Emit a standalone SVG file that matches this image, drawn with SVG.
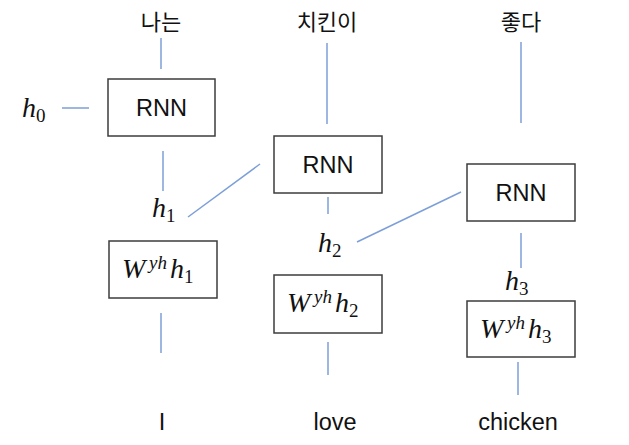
<svg xmlns="http://www.w3.org/2000/svg" width="629" height="445" viewBox="0 0 629 445">
<style>
.box{fill:#fff;stroke:#3c3c3c;stroke-width:1.5}
.ln{stroke:#7d9fd8;stroke-width:1.5;fill:none}
.kr{font-family:"Noto Sans CJK KR","Noto Sans",sans-serif;font-size:22px;fill:#111;text-anchor:middle}
.en{font-family:"Liberation Sans",Arial,sans-serif;font-size:23.5px;fill:#111;text-anchor:middle}
.m{font-family:"Liberation Serif","Times New Roman",serif;font-style:italic;font-size:28px;fill:#111}
.s{font-size:19px}
.d{font-style:normal;font-size:19px}
</style>
<rect width="629" height="445" fill="#fff"/>
<g id="connectors">
<line class="ln" x1="161" y1="38" x2="161" y2="69"/>
<line class="ln" x1="62" y1="108" x2="89" y2="108"/>
<line class="ln" x1="163" y1="151" x2="163" y2="191"/>
<line class="ln" x1="188" y1="217" x2="260" y2="164"/>
<line class="ln" x1="327" y1="43" x2="327" y2="124"/>
<line class="ln" x1="328" y1="197" x2="328" y2="214"/>
<line class="ln" x1="357" y1="242" x2="461" y2="192"/>
<line class="ln" x1="521" y1="42" x2="521" y2="123"/>
<line class="ln" x1="521" y1="233" x2="521" y2="268"/>
<line class="ln" x1="161" y1="313" x2="161" y2="353"/>
<line class="ln" x1="328" y1="342" x2="328" y2="375"/>
<line class="ln" x1="518" y1="362" x2="518" y2="395"/>
</g>
<g id="word-in-1"><text class="kr" x="161" y="30">나는</text></g>
<g id="word-in-2"><text class="kr" x="327" y="30">치킨이</text></g>
<g id="word-in-3"><text class="kr" x="521" y="30">좋다</text></g>
<g id="h0"><text class="m" x="22" y="117">h<tspan class="d" dy="5">0</tspan></text></g>
<g id="rnn1"><rect class="box" x="108" y="79" width="107" height="57"/><text class="en" x="161.5" y="116">RNN</text></g>
<g id="rnn2"><rect class="box" x="274" y="136" width="108" height="57"/><text class="en" x="328" y="173">RNN</text></g>
<g id="rnn3"><rect class="box" x="467" y="164" width="108" height="57"/><text class="en" x="521" y="201">RNN</text></g>
<g id="h1"><text class="m" x="152" y="217">h<tspan class="d" dy="5">1</tspan></text></g>
<g id="h2"><text class="m" x="318" y="252">h<tspan class="d" dy="5">2</tspan></text></g>
<g id="h3"><text class="m" x="505" y="290">h<tspan class="d" dy="5">3</tspan></text></g>
<g id="out1"><rect class="box" x="109" y="241" width="108" height="57"/><text class="m" y="278"><tspan x="122">W</tspan><tspan class="s" x="149" dy="-9">yh</tspan><tspan x="170" dy="9">h</tspan><tspan class="d" x="184" dy="5">1</tspan></text></g>
<g id="out2"><rect class="box" x="274" y="275" width="108" height="58"/><text class="m" y="312"><tspan x="287">W</tspan><tspan class="s" x="314" dy="-9">yh</tspan><tspan x="335" dy="9">h</tspan><tspan class="d" x="349" dy="5">2</tspan></text></g>
<g id="out3"><rect class="box" x="467" y="301" width="108" height="56"/><text class="m" y="338"><tspan x="480">W</tspan><tspan class="s" x="507" dy="-9">yh</tspan><tspan x="528" dy="9">h</tspan><tspan class="d" x="542" dy="5">3</tspan></text></g>
<g id="word-out-1"><text class="en" x="162" y="430">I</text></g>
<g id="word-out-2"><text class="en" x="335" y="430">love</text></g>
<g id="word-out-3"><text class="en" x="518" y="430">chicken</text></g>
</svg>
